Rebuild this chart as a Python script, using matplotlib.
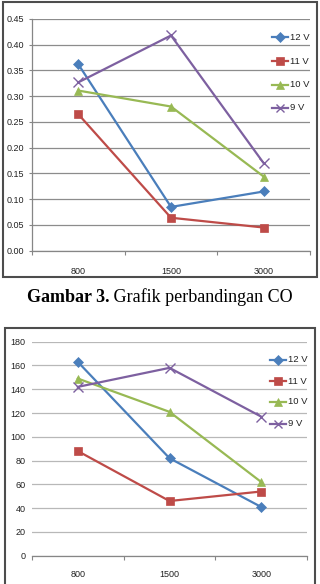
import matplotlib
matplotlib.use("Agg")
import matplotlib.pyplot as plt
from matplotlib.patches import Rectangle
from matplotlib.lines import Line2D

# ---------------- data ----------------
categories = ["800", "1500", "3000"]
series_names = ["12 V", "11 V", "10 V", "9 V"]

co_12v = [0.362, 0.085, 0.115]
co_11v = [0.265, 0.064, 0.045]
co_10v = [0.311, 0.280, 0.144]
co_9v = [0.327, 0.418, 0.170]

b_12v = [163, 82, 41]
b_11v = [88, 46, 54]
b_10v = [149, 121, 62]
b_9v = [142, 158, 117]

co_ticks = [0.00, 0.05, 0.10, 0.15, 0.20, 0.25, 0.30, 0.35, 0.40, 0.45]
b_ticks = [0, 20, 40, 60, 80, 100, 120, 140, 160, 180]

caption_bold = "Gambar 3."
caption_rest = " Grafik perbandingan CO"

# ---------------- style ----------------
colors = ["#4A7EBB", "#BE4B48", "#98B954", "#7D60A0"]
markers = ["D", "s", "^", "x"]
msizes = [5.2, 6.2, 6.2, 7]
FONT = "Liberation Sans"
plt.rcParams["font.family"] = [FONT, "DejaVu Sans"]

W, H = 320, 584
fig = plt.figure(figsize=(W / 100, H / 100), dpi=100)
fig.patch.set_facecolor("white")


def px_axes(left, top, right, bottom):
    return fig.add_axes([left / W, 1 - bottom / H, (right - left) / W, (bottom - top) / H])


def draw_chart(ax, data, yticks, fmt, grid_color, left_spine, lab_pad, ylab_pad, ytick_len):
    x = list(range(len(categories)))
    for vals, c, m, ms, name in zip(data, colors, markers, msizes, series_names):
        ax.plot(x, vals, color=c, lw=1.6, marker=m, markersize=ms,
                markeredgewidth=1.0 if m == "x" else 0.5, markeredgecolor=c,
                label=name, zorder=3, clip_on=False)
    ax.set_xlim(-0.5, len(categories) - 0.5)
    ax.set_ylim(yticks[0], yticks[-1])
    ax.set_yticks(yticks)
    ax.set_yticklabels([fmt(v) for v in yticks])
    ax.set_xticks(x)
    ax.set_xticklabels(categories)
    ax.set_xticks([i - 0.5 for i in range(len(categories) + 1)], minor=True)
    ax.tick_params(axis="x", which="major", length=0, pad=lab_pad, labelsize=6.5,
                   labelcolor="#222222")
    ax.tick_params(axis="x", which="minor", length=3, width=0.8, color="#868686",
                   direction="out")
    ax.tick_params(axis="y", which="major", length=ytick_len, width=0.8, color="#868686",
                   pad=ylab_pad, labelsize=6.5, labelcolor="#222222")
    ax.grid(axis="y", color=grid_color, lw=0.9)
    ax.set_axisbelow(True)
    for s in ["top", "right"]:
        ax.spines[s].set_visible(False)
    ax.spines["bottom"].set_color("#868686")
    ax.spines["bottom"].set_linewidth(0.9)
    if left_spine:
        ax.spines["left"].set_color("#868686")
        ax.spines["left"].set_linewidth(0.9)
    else:
        ax.spines["left"].set_visible(False)
    ax.set_facecolor("none")


def draw_legend(ax, x_line0, x_line1, x_text, ys):
    for name, c, m, ms, y in zip(series_names, colors, markers, msizes, ys):
        fy = 1 - y / H
        fig.add_artist(Line2D([x_line0 / W, x_line1 / W], [fy, fy], color=c, lw=1.6,
                              transform=fig.transFigure))
        fig.add_artist(Line2D([(x_line0 + x_line1) / 2 / W], [fy], color=c, marker=m,
                              markersize=ms * 0.9, markeredgewidth=1.0 if m == "x" else 0.5,
                              markeredgecolor=c, transform=fig.transFigure))
        fig.text(x_text / W, fy, name, fontsize=6.8, va="center", ha="left",
                 color="#222222")


# frames
fig.add_artist(Rectangle((2.5 / W, 1 - 277 / H), 314.5 / W, 275.5 / H, fill=False,
                         ec="#4d4d4d", lw=1.5, transform=fig.transFigure))
fig.add_artist(Rectangle((4.5 / W, 1 - 590 / H), 310.5 / W, 262.5 / H, fill=False,
                         ec="#4d4d4d", lw=1.5, transform=fig.transFigure))

ax1 = px_axes(32, 19, 310, 250.7)
draw_chart(ax1, [co_12v, co_11v, co_10v, co_9v], co_ticks, lambda v: f"{v:.2f}",
           "#8c8c8c", True, 12, 3.5, 2.5)
draw_legend(ax1, 272, 288, 290, [37, 61, 84.5, 108])

ax2 = px_axes(32, 341.7, 307, 555.7)
draw_chart(ax2, [b_12v, b_11v, b_10v, b_9v], b_ticks, lambda v: f"{v:d}",
           "#b8b8b8", False, 10.5, 4.5, 0)
draw_legend(ax2, 270, 286, 288, [359.5, 381, 402, 423.5])

# caption with bold + regular parts
fig.canvas.draw()
renderer = fig.canvas.get_renderer()
cap_y = 1 - 302.5 / H
t1 = fig.text(0, cap_y, caption_bold, fontsize=13, fontweight="bold",
              family=["Liberation Serif"], ha="left", va="baseline")
t2 = fig.text(0, cap_y, caption_rest, fontsize=13, family=["Liberation Serif"],
              ha="left", va="baseline")
w1 = t1.get_window_extent(renderer).width
w2 = t2.get_window_extent(renderer).width
x0 = (W / 2 - (w1 + w2) / 2)
t1.set_x(x0 / W)
t2.set_x((x0 + w1) / W)

fig.savefig("out.png", dpi=100, facecolor="white")
